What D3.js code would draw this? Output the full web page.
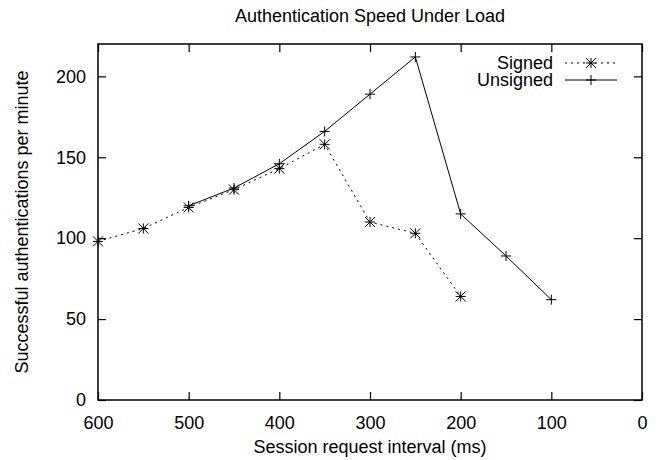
<!DOCTYPE html>
<html>
<head>
<meta charset="utf-8">
<script src="https://cdn.jsdelivr.net/npm/d3@7"></script>
<style>
  body { margin: 0; background: #fff; }
  text { font-family: "Liberation Sans", Arial, sans-serif; fill: #000; }
</style>
</head>
<body>
<div id="chart"></div>
<script>
// Data
const signedX = [600, 550, 500, 450, 400, 350, 300, 250, 200];
const signedY = [98, 106, 119, 130, 143, 158, 110, 103, 64];
const unsignedX = [500, 450, 400, 350, 300, 250, 200, 150, 100];
const unsignedY = [120, 131, 146, 166, 189, 212, 115, 89, 62];
const xTicks = [600, 500, 400, 300, 200, 100, 0];
const yTicks = [0, 50, 100, 150, 200];

const W = 661, H = 460;
const margin = { top: 44, right: 19, bottom: 60, left: 98 };
const width = W - margin.left - margin.right;
const height = H - margin.top - margin.bottom;

const svg = d3.select("#chart").append("svg")
    .attr("width", W)
    .attr("height", H);

const g = svg.append("g")
    .attr("transform", `translate(${margin.left},${margin.top})`);

// x axis is reversed: 600 on the left, 0 on the right
const x = d3.scaleLinear().domain([600, 0]).range([0, width]);
const y = d3.scaleLinear().domain([0, 220]).range([height, 0]);

const tickLen = 8;

// inward ticks on all four sides, like gnuplot mirrors them
g.append("g")
    .attr("transform", `translate(0,${height})`)
    .call(d3.axisBottom(x).tickValues(xTicks).tickSize(-tickLen).tickPadding(16))
    .call(a => a.select(".domain").remove());
g.append("g")
    .call(d3.axisTop(x).tickValues(xTicks).tickSize(-tickLen).tickFormat(""))
    .call(a => a.select(".domain").remove());
g.append("g")
    .call(d3.axisLeft(y).tickValues(yTicks).tickSize(-tickLen).tickPadding(12))
    .call(a => a.select(".domain").remove());
g.append("g")
    .attr("transform", `translate(${width},0)`)
    .call(d3.axisRight(y).tickValues(yTicks).tickSize(-tickLen).tickFormat(""))
    .call(a => a.select(".domain").remove());

g.selectAll(".tick line").attr("stroke", "#000").attr("stroke-width", 1.2);
g.selectAll(".tick text")
    .style("font-size", "18px")
    .style("font-family", "'Liberation Sans', Arial, sans-serif");

// border
g.append("rect")
    .attr("width", width)
    .attr("height", height)
    .attr("fill", "none")
    .attr("stroke", "#000")
    .attr("stroke-width", 1.5);

const line = d3.line()
    .x(d => x(d[0]))
    .y(d => y(d[1]));

const signed = signedX.map((v, i) => [v, signedY[i]]);
const unsigned = unsignedX.map((v, i) => [v, unsignedY[i]]);

g.append("path")
    .datum(signed)
    .attr("d", line)
    .attr("fill", "none")
    .attr("stroke", "#000")
    .attr("stroke-width", 1)
    .attr("stroke-dasharray", "2,4");

g.append("path")
    .datum(unsigned)
    .attr("d", line)
    .attr("fill", "none")
    .attr("stroke", "#000")
    .attr("stroke-width", 1);

// marker shapes
const s = 5;
const plusPath = `M${-s},0H${s}M0,${-s}V${s}`;
const starPath = plusPath + `M${-s},${-s}L${s},${s}M${-s},${s}L${s},${-s}`;

function drawMarkers(data, path) {
    g.append("g")
        .selectAll("path")
        .data(data)
        .enter()
        .append("path")
        .attr("transform", d => `translate(${x(d[0])},${y(d[1])})`)
        .attr("d", path)
        .attr("fill", "none")
        .attr("stroke", "#000")
        .attr("stroke-width", 1);
}
drawMarkers(signed, starPath);
drawMarkers(unsigned, plusPath);

// legend
const legend = [
    { name: "Signed", dash: "2,4", marker: starPath },
    { name: "Unsigned", dash: null, marker: plusPath }
];
legend.forEach((d, i) => {
    const ly = 63 + i * 17;
    svg.append("text")
        .attr("x", 553)
        .attr("y", ly)
        .attr("dy", "0.35em")
        .attr("text-anchor", "end")
        .style("font-size", "18px")
        .text(d.name);
    svg.append("line")
        .attr("x1", 565).attr("x2", 617)
        .attr("y1", ly).attr("y2", ly)
        .attr("stroke", "#000")
        .attr("stroke-width", 1)
        .attr("stroke-dasharray", d.dash);
    svg.append("path")
        .attr("transform", `translate(591,${ly})`)
        .attr("d", d.marker)
        .attr("fill", "none")
        .attr("stroke", "#000");
});

// title and axis labels
svg.append("text")
    .attr("x", margin.left + width / 2)
    .attr("y", 22)
    .attr("text-anchor", "middle")
    .style("font-size", "18px")
    .text("Authentication Speed Under Load");

svg.append("text")
    .attr("x", margin.left + width / 2)
    .attr("y", 453)
    .attr("text-anchor", "middle")
    .style("font-size", "18px")
    .text("Session request interval (ms)");

svg.append("text")
    .attr("transform", `translate(28,${margin.top + height / 2}) rotate(-90)`)
    .attr("text-anchor", "middle")
    .style("font-size", "18px")
    .text("Successful authentications per minute");
</script>
</body>
</html>
